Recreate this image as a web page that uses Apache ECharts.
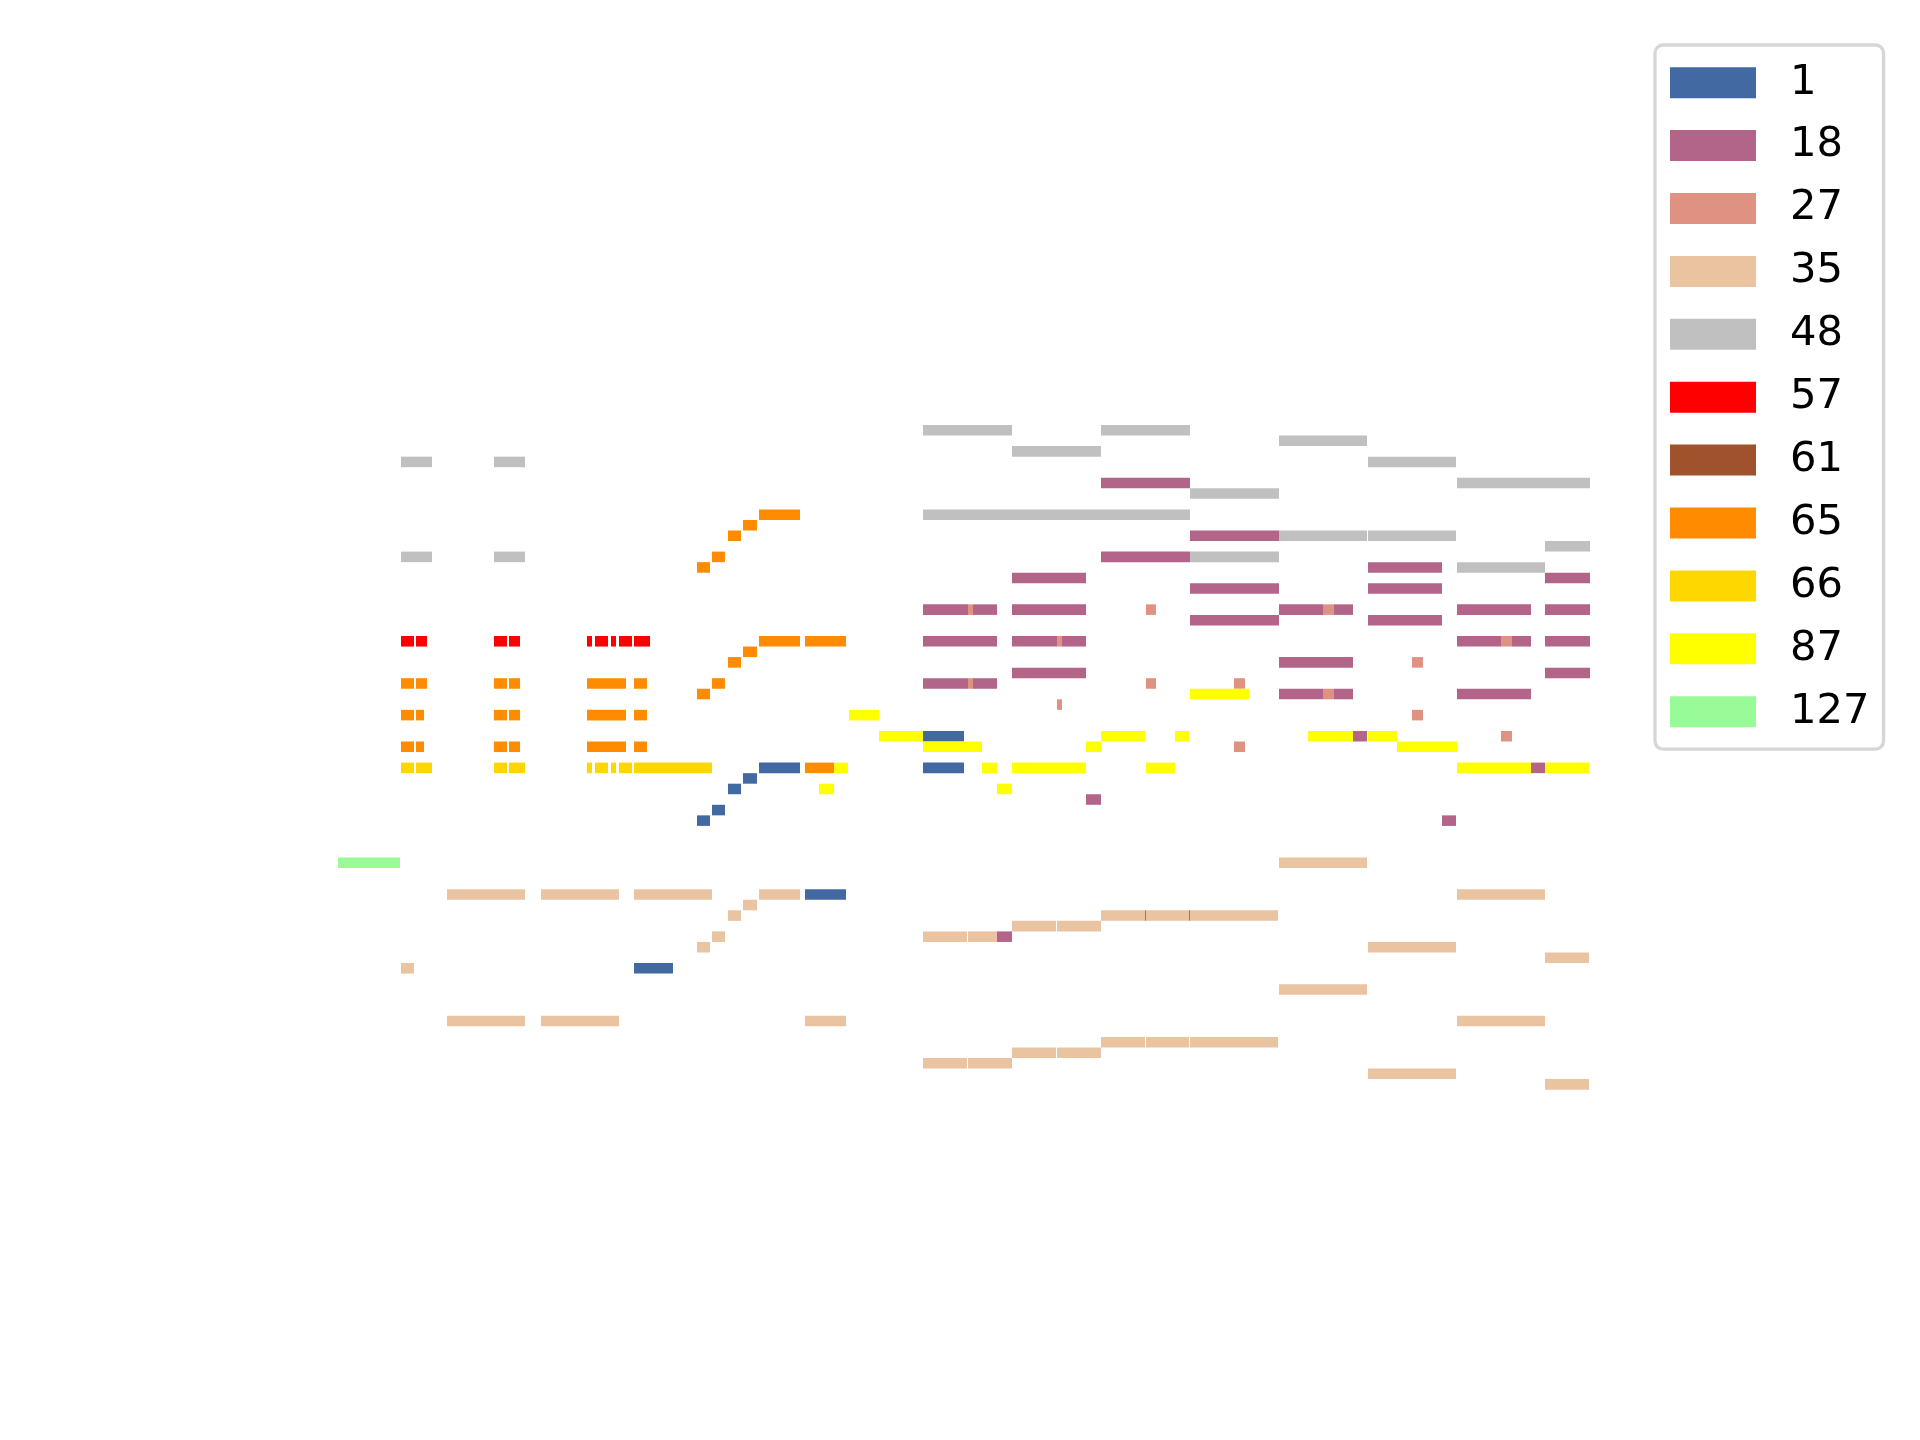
<!DOCTYPE html>
<html>
<head>
<meta charset="utf-8">
<script src="https://cdn.jsdelivr.net/npm/echarts@6/dist/echarts.min.js"></script>
<style>html,body{margin:0;padding:0;background:#fff}#c{width:1920px;height:1440px}</style>
</head>
<body>
<div id="c"></div>
<script>
// Piano-roll notes per instrument program: [onset tick, offset tick, pitch]
const programs = ['1','18','27','35','48','57','61','65','66','87','127'];
const colors = ['#4369a2','#b26589','#df9282','#eac3a0','#c0c0c0','#ff0000','#a0522d','#ff8c00','#ffd700','#ffff00','#98fb98'];

const notes1 = [
  [296,335,35],[359,372,49],[374,387,50],[390,403,52],[405,419,53],[421,462,54],
  [467,508,42],[585,626,57],[585,626,54]
];
const notes18 = [
  [585,630,69],[635,659,69],[585,659,66],[585,630,62],[635,659,62],[659,674,38],
  [674,748,72],[674,748,69],[674,719,66],[724,748,66],[674,748,63],[748,763,51],
  [763,852,81],[763,852,74],[807,808,40],[851,852,40],
  [852,941,76],[852,941,71],[852,941,68],
  [941,985,69],[996,1015,69],[941,1015,64],[941,985,61],[996,1015,61],[1015,1029,57],
  [1030,1104,73],[1030,1104,71],[1030,1104,68],[1104,1118,49],
  [1119,1193,69],[1119,1163,66],[1174,1193,66],[1119,1193,61],[1193,1207,54],
  [1207,1252,72],[1207,1252,69],[1207,1252,66],[1207,1252,63]
];
const notes27 = [
  [630,635,69],[630,635,62],[719,724,66],[719,724,60],[808,818,69],[808,818,62],
  [896,907,62],[896,907,56],[985,996,69],[985,996,61],[1074,1085,64],[1074,1085,59],
  [1163,1174,66],[1163,1174,57]
];
const notes35 = [
  [109,187,42],[203,281,42],[296,374,42],[421,462,42],[63,76,35],
  [109,187,30],[203,281,30],[467,508,30],
  [405,419,41],[390,403,40],[374,387,38],[359,372,37],
  [585,629,38],[630,659,38],[585,629,26],[630,674,26],
  [674,718,39],[719,763,39],[674,718,27],[719,763,27],
  [763,807,40],[808,851,40],[852,940,40],[763,807,28],[808,851,28],[852,940,28],
  [941,1029,45],[941,1029,33],[1030,1118,37],[1030,1118,25],
  [1119,1207,42],[1119,1207,30],[1207,1251,36],[1207,1251,24]
];
const notes48 = [
  [63,94,83],[156,187,83],[63,94,74],[156,187,74],
  [585,674,86],[763,852,86],[585,852,78],[674,763,84],[852,941,80],[852,941,74],
  [941,1029,85],[941,1029,76],[1030,1118,76],[1030,1118,83],
  [1119,1252,81],[1119,1207,73],[1207,1252,75]
];
const notes57 = [
  [63,76,66],[78,89,66],[156,169,66],[171,182,66],
  [249,254,66],[257,270,66],[273,278,66],[281,294,66],[296,312,66]
];
const notes61 = [];
const notes65 = [
  [63,76,62],[78,89,62],[156,169,62],[171,182,62],[249,288,62],[296,309,62],
  [63,76,59],[78,86,59],[156,169,59],[171,182,59],[249,288,59],[296,309,59],
  [63,76,56],[78,86,56],[156,169,56],[171,182,56],[249,288,56],[296,309,56],
  [359,372,73],[374,387,74],[390,403,76],[405,419,77],[421,462,78],
  [359,372,61],[374,387,62],[390,403,64],[405,419,65],[421,462,66],[467,508,66],
  [467,496,54]
];
const notes66 = [
  [63,76,54],[78,94,54],[156,169,54],[171,187,54],
  [249,254,54],[257,270,54],[273,278,54],[281,294,54],[296,374,54]
];
const notes87 = [
  [481,496,52],[496,510,54],[511,541,59],[541,585,57],[585,644,56],[644,659,54],
  [659,674,52],[674,748,54],[748,763,56],[763,807,57],[808,837,54],[837,851,57],
  [852,911,61],[970,1015,57],[1030,1059,57],[1059,1119,56],[1119,1193,54],[1207,1251,54]
];
const notes127 = [[0,62,45]];

const allNotes = [notes1,notes18,notes27,notes35,notes48,notes57,notes61,notes65,notes66,notes87,notes127];

function renderNote(params, api) {
  const s = api.value(0), e = api.value(1), p = api.value(2);
  const a = api.coord([s, p + 0.5]);
  const b = api.coord([e, p - 0.5]);
  return {
    type: 'rect',
    shape: { x: a[0], y: a[1], width: b[0] - a[0], height: b[1] - a[1] },
    style: { fill: api.visual('color') }
  };
}

const series = programs.map((name, i) => ({
  name: name,
  type: 'custom',
  renderItem: renderNote,
  itemStyle: { color: colors[i] },
  encode: { x: [0, 1], y: 2 },
  data: allNotes[i],
  clip: false
}));

const chart = echarts.init(document.getElementById('c'), null, { renderer: 'canvas' });
chart.setOption({
  animation: false,
  backgroundColor: '#ffffff',
  grid: { left: 338, top: 388.075, width: 1300, height: 738.5 },
  xAxis: { type: 'value', min: 0, max: 1300, show: false },
  yAxis: { type: 'value', min: 20, max: 90, show: false },
  legend: {
    orient: 'vertical',
    left: 1655,
    top: 45,
    padding: [16.7, 14, 16.4, 15],
    itemWidth: 86,
    itemHeight: 31,
    itemGap: 20.9,
    icon: 'rect',
    backgroundColor: '#ffffff',
    borderColor: '#d6d6d6',
    borderWidth: 3.3,
    borderRadius: 8,
    textStyle: { fontFamily: 'DejaVu Sans', fontSize: 41.7, color: '#000000', lineHeight: 31, padding: [0, 0, 0, 29] },
    data: programs
  },
  series: series
});
</script>
</body>
</html>
